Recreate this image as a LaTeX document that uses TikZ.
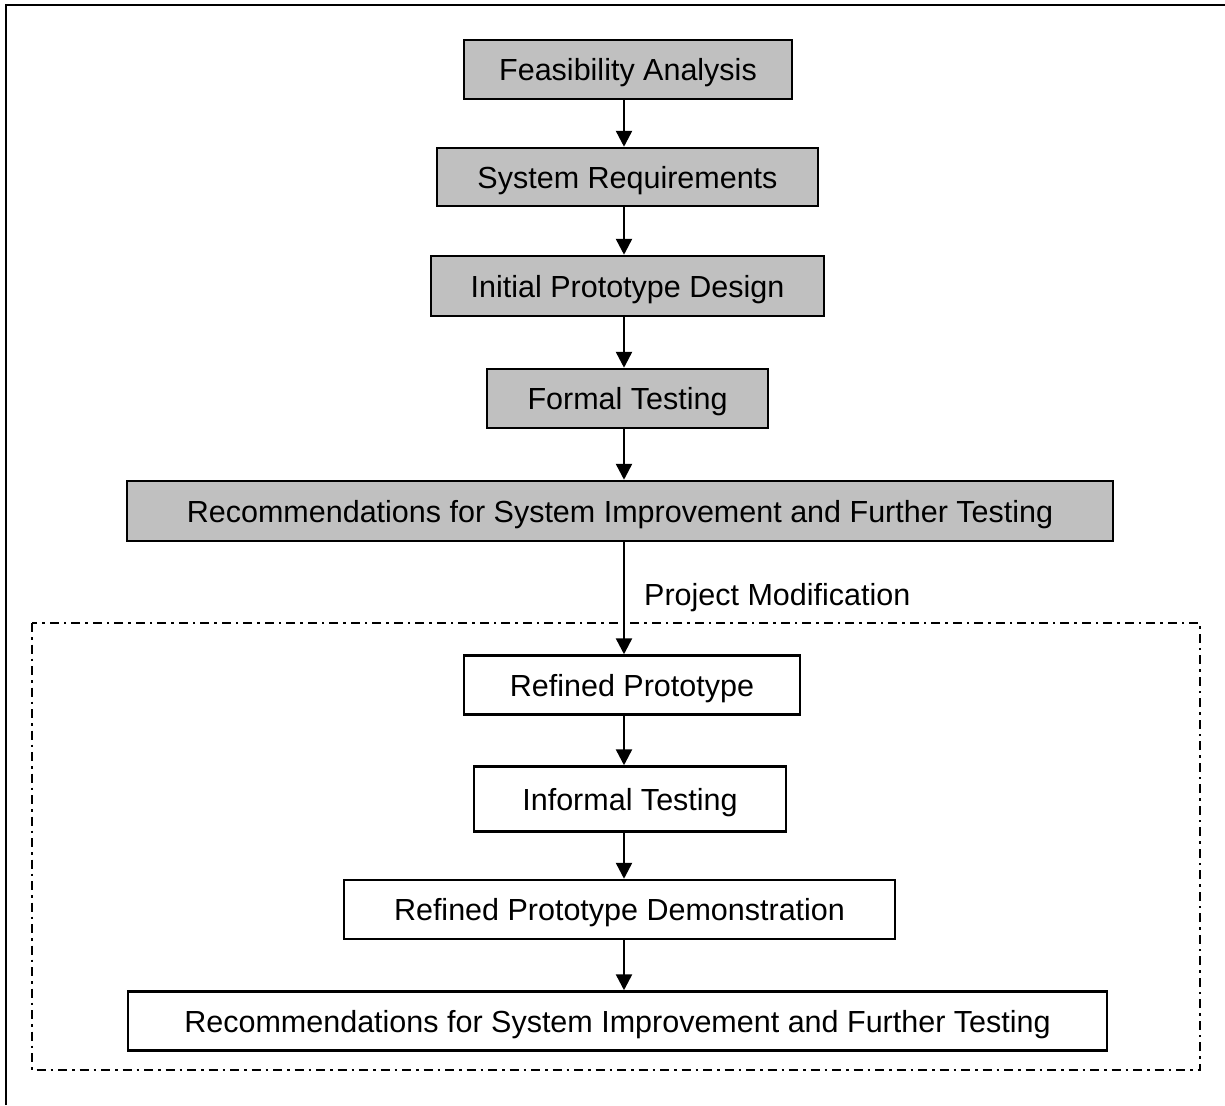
\documentclass[tikz,border=0pt]{standalone}
\usepackage{fontspec}
\setmainfont{Liberation Sans}
\usetikzlibrary{arrows.meta}
\definecolor{boxgray}{HTML}{C0C0C0}
\begin{document}
\begin{tikzpicture}[x=1pt,y=-1pt,
  font=\fontsize{30.5}{36}\selectfont,
  stage/.style={draw=black, line width=2.5pt, inner sep=0pt, align=center,
                text height=26pt, text depth=4pt},
  shaded/.style={stage, fill=boxgray},
  plain/.style={stage, fill=white},
  flow/.style={line width=2.5pt, -{Triangle[width=16pt,length=16pt]}},
  group/.style={line width=2.2pt, dash pattern=on 9pt off 5pt on 2.5pt off 5pt}]
\useasboundingbox (0,0) rectangle (1225,1105);

% page frame (top and left edges)
\draw[line width=2.8pt] (6,1105) -- (6,5) -- (1225,5);

% dash-dotted group around the refinement loop
\draw[group] (32,623) rectangle (1200,1070);

% stages
\node[shaded, minimum width=328pt, minimum height=59pt] (fa)   at (628,69.5) {Feasibility Analysis};
\node[shaded, minimum width=381pt, minimum height=58pt] (sr)   at (627.5,177) {System Requirements};
\node[shaded, minimum width=393pt, minimum height=60pt] (ipd)  at (627.5,286) {Initial Prototype Design};
\node[shaded, minimum width=281pt, minimum height=59pt] (ft)   at (627.5,398.5) {Formal Testing};
\node[shaded, minimum width=986pt, minimum height=60pt] (rec1) at (620,511) {Recommendations for System Improvement and Further Testing};

\node[plain, minimum width=336pt, minimum height=59pt] (rp)   at (632,685) {Refined Prototype};
\node[plain, minimum width=312pt, minimum height=65pt] (it)   at (630,799) {Informal Testing};
\node[plain, minimum width=551pt, minimum height=59pt] (rpd)  at (619.5,909.5) {Refined Prototype Demonstration};
\node[plain, minimum width=979pt, minimum height=59pt] (rec2) at (617.5,1021) {Recommendations for System Improvement and Further Testing};

\node[inner sep=0pt, anchor=base west] (pm) at (644,605) {Project Modification};

% connectors share one vertical axis
\coordinate (axis) at (624,0);
\draw[flow] (fa.south -| axis)   -- (sr.north -| axis);
\draw[flow] (sr.south -| axis)   -- (ipd.north -| axis);
\draw[flow] (ipd.south -| axis)  -- (ft.north -| axis);
\draw[flow] (ft.south -| axis)   -- (rec1.north -| axis);
\draw[flow] (rec1.south -| axis) -- (rp.north -| axis);
\draw[flow] (rp.south -| axis)   -- (it.north -| axis);
\draw[flow] (it.south -| axis)   -- (rpd.north -| axis);
\draw[flow] (rpd.south -| axis)  -- (rec2.north -| axis);
\end{tikzpicture}
\end{document}
